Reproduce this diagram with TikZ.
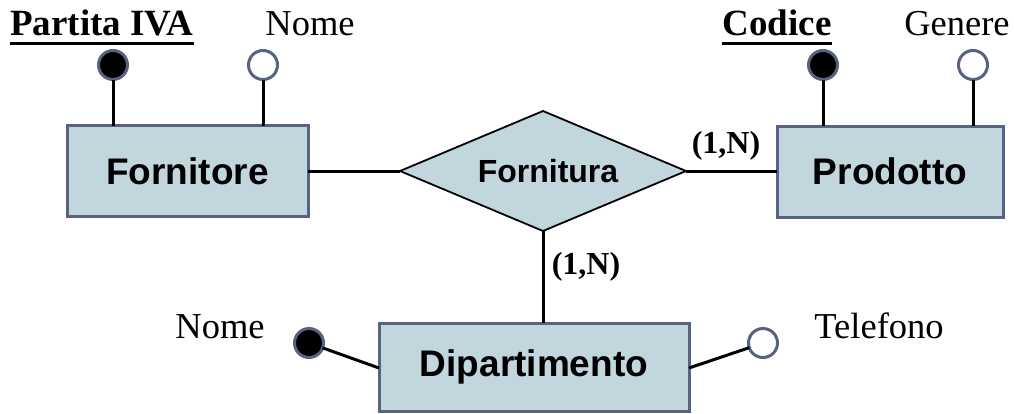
\documentclass[tikz,border=0pt]{standalone}
\usepackage{fontspec}
\setmainfont{Liberation Serif}
\newfontfamily\arialf{Liberation Sans}
\definecolor{boxfill}{RGB}{194,214,222}
\definecolor{boxline}{RGB}{88,98,130}
\tikzset{
  entity/.style={draw=boxline, fill=boxfill, line width=3pt, inner sep=0pt, outer sep=0pt,
    font=\arialf\bfseries\fontsize{37}{42}\selectfont},
  relshape/.style={draw=black, fill=boxfill, line width=1.8pt, line join=miter},
  reltext/.style={inner sep=0pt, font=\arialf\bfseries\fontsize{32}{36}\selectfont},
  keyatt/.style={circle, draw=boxline, fill=black, line width=3pt, minimum size=29pt, inner sep=0pt, outer sep=0pt},
  att/.style={circle, draw=boxline, fill=white, line width=3pt, minimum size=29pt, inner sep=0pt, outer sep=0pt},
  lbl/.style={inner sep=0pt, font=\fontsize{36.5}{40}\selectfont},
  klbl/.style={inner sep=0pt, font=\bfseries\fontsize{37}{40}\selectfont},
  card/.style={inner sep=0pt, font=\bfseries\fontsize{32}{36}\selectfont},
  conn/.style={line width=3pt, black},
}
\begin{document}
\begin{tikzpicture}[x=1pt,y=-1pt]
\useasboundingbox (0,0) rectangle (1014,413);
% entities
\node[entity, minimum width=241pt, minimum height=91pt] (forn) at (187.5,171) {Fornitore};
\node[entity, minimum width=226pt, minimum height=91pt] (prod) at (890,171.5) {Prodotto};
\node[entity, minimum width=310pt, minimum height=88pt] (dip) at (534,367) {Dipartimento};
% relationship
\coordinate (rw) at (400,171);
\coordinate (re) at (686,171);
\coordinate (rn) at (543,111);
\coordinate (rs) at (543,231);
\draw[relshape] (rw) -- (rn) -- (re) -- (rs) -- cycle;
\node[reltext] (rel) at (548,171) {Fornitura};
% attributes
\node[keyatt] (a1) at (113,65) {};
\node[att] (a2) at (263,65) {};
\node[keyatt] (a3) at (823,65) {};
\node[att] (a4) at (973,65) {};
\node[keyatt] (a5) at (309,343) {};
\node[att] (a6) at (763,343) {};
% attribute labels
\node[klbl, anchor=base] (t1) at (102,35) {Partita IVA};
\node[lbl, anchor=base] (t2) at (310,35) {Nome};
\node[klbl, anchor=base] (t3) at (777,35) {Codice};
\node[lbl, anchor=base] (t4) at (957,35) {Genere};
\node[lbl, anchor=base] (t5) at (220,338) {Nome};
\node[lbl, anchor=base] (t6) at (879,338) {Telefono};
\draw[line width=3pt] ([yshift=-8pt]t1.base west) -- ([yshift=-8pt]t1.base east);
\draw[line width=3pt] ([yshift=-8pt]t3.base west) -- ([yshift=-8pt]t3.base east);
% connectors
\draw[conn] (a1) -- (a1 |- forn.north);
\draw[conn] (a2) -- (a2 |- forn.north);
\draw[conn] (a3) -- (a3 |- prod.north);
\draw[conn] (a4) -- (a4 |- prod.north);
\draw[conn] (a5) -- ([yshift=-1pt]dip.west);
\draw[conn] (a6) -- ([yshift=-1pt]dip.east);
\draw[conn] (forn.east) -- (rw);
\draw[conn] (re) -- (re -| prod.west);
\draw[conn] (rs) -- (rs |- dip.north);
% cardinalities
\node[card] (c1) at (726,146) {(1,N)};
\node[card] (c2) at (586,267) {(1,N)};
\end{tikzpicture}
\end{document}
